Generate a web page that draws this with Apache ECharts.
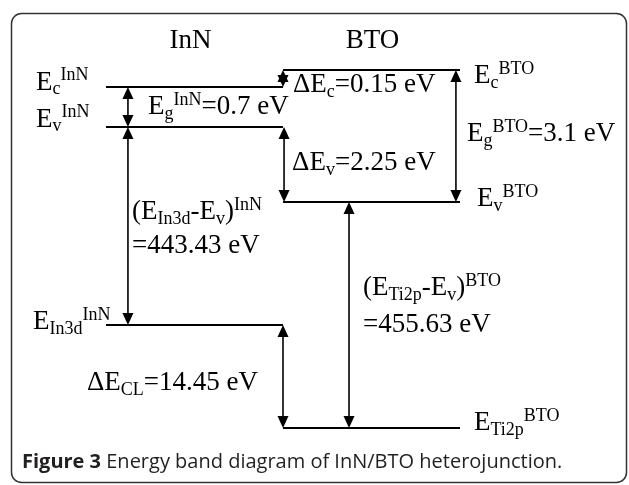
<!DOCTYPE html>
<html><head><meta charset="utf-8">
<script src="https://cdn.jsdelivr.net/npm/echarts@6/dist/echarts.min.js"></script>
<style>html,body{margin:0;padding:0;background:#fff}#c{width:629px;height:485px}</style>
</head><body><div id="c"></div>
<script>
// ---------------- data ----------------
const materials = ['InN', 'BTO'];
const levelNames = ['Ec_InN', 'Ev_InN', 'EIn3d_InN', 'Ec_BTO', 'Ev_BTO', 'ETi2p_BTO'];
const levelMaterial = [0, 0, 0, 1, 1, 1];
// schematic (not to scale) level position, measured downward from E_c^BTO
const levelDepth = [17, 57, 255, 0, 132, 358];
const levelLabels = [
  '{m|E}{sub|c}{sup|InN}', '{m|E}{sub|v}{sup|InN}', '{m|E}{sub|In3d}{sup|InN}',
  '{m|E}{sub|c}{sup|BTO}', '{m|E}{sub|v}{sup|BTO}', '{m|E}{sub|Ti2p}{sup|BTO}'
];
const gapFrom = [0, 3, 1, 3, 1, 4, 2];
const gapTo   = [1, 0, 4, 4, 2, 5, 5];
const gapValues = [0.7, 0.15, 2.25, 3.1, 443.43, 455.63, 14.45];
const gapSymbols = [
  '{m|E}{sub|g}{sup|InN}', '{m|ΔE}{sub|c}', '{m|ΔE}{sub|v}', '{m|E}{sub|g}{sup|BTO}',
  '{m|(E}{sub|In3d}{m|-E}{sub|v}{m|)}{sup|InN}', '{m|(E}{sub|Ti2p}{m|-E}{sub|v}{m|)}{sup|BTO}',
  '{m|ΔE}{sub|CL}'
];
const caption = ['Figure 3', ' Energy band diagram of InN/BTO heterojunction.'];

// ---------------- layout ----------------
const SERIF = '"Liberation Serif","Times New Roman",serif';
const RICH = {
  m:   {fontFamily: SERIF, fontSize: 27, lineHeight: 32, verticalAlign: 'middle', fill: '#000'},
  sup: {fontFamily: SERIF, fontSize: 18, lineHeight: 18, verticalAlign: 'top', fill: '#000'},
  sub: {fontFamily: SERIF, fontSize: 18, lineHeight: 18, verticalAlign: 'bottom', fill: '#000'},
  t:   {fontFamily: SERIF, fontSize: 27, lineHeight: 32, verticalAlign: 'middle', fill: '#000'}
};
const arrowX = [0.124, 1.0, 1.006, 1.977, 0.124, 1.373, 1.0];   // column units
// label offsets (px) relative to anchor: [dx, baseline dy, align]
const levelLabelOff = [[-70, 4.5], [-70, 1.5], [-73, 6], [14, 15], [17, 6], [14, 4]];
const gapLabelOff = [[20, 29, 'left'], [10, 24, 'left'], [8, 45, 'left'], [11, 73, 'left'],
                     [4, 94, 'left'], [14, 95, 'left'], [-25, 67, 'right']];
const gapSecondLine = {4: 128, 5: 132};
const BASE = 9; // middle-to-baseline offset for 27px serif

// ---------------- build ----------------
const levelData = levelDepth.map((d, i) => [levelMaterial[i], levelMaterial[i] + 1, d]);
const arrowData = gapFrom.map((f, i) => [arrowX[i], levelDepth[f], levelDepth[gapTo[i]]]);

const ann = [];
materials.forEach((m, i) => ann.push({at: [i + 0.5, 0], dx: i === 0 ? -4 : 1, dy: -20, text: '{t|' + m + '}', align: 'center'}));
levelLabels.forEach((t, i) => {
  const x = levelMaterial[i] === 0 ? 0 : 2;
  ann.push({at: [x, levelDepth[i]], dx: levelLabelOff[i][0], dy: levelLabelOff[i][1], text: t, align: 'left'});
});
gapSymbols.forEach((s, i) => {
  const top = Math.min(levelDepth[gapFrom[i]], levelDepth[gapTo[i]]);
  const o = gapLabelOff[i];
  const val = '{m|=' + gapValues[i] + ' eV}';
  if (gapSecondLine[i] !== undefined) {
    ann.push({at: [arrowX[i], top], dx: o[0], dy: o[1], text: s, align: o[2]});
    ann.push({at: [arrowX[i], top], dx: o[0], dy: gapSecondLine[i], text: val, align: o[2]});
  } else {
    ann.push({at: [arrowX[i], top], dx: o[0], dy: o[1], text: s + val, align: o[2]});
  }
});

const chart = echarts.init(document.getElementById('c'), null, {renderer: 'canvas'});
const HEAD_L = 12, HEAD_W = 5.5;
chart.setOption({
  animation: false,
  backgroundColor: '#fff',
  grid: {left: 106, right: 169, top: 70, bottom: 57},
  xAxis: {type: 'value', min: 0, max: 2, show: false},
  yAxis: {type: 'value', min: 0, max: 358, inverse: true, show: false},
  graphic: [
    {type: 'rect', shape: {x: 11.5, y: 13.5, width: 615, height: 469, r: 10},
     style: {fill: 'none', stroke: '#333', lineWidth: 1.5}, silent: true},
    {type: 'text', x: 22, y: 462,
     style: {text: '{b|' + caption[0] + '}{r|' + caption[1] + '}', verticalAlign: 'middle',
       rich: {b: {fontFamily: '"Open Sans",sans-serif', fontSize: 20, fontWeight: 'bold', fill: '#231f20'},
              r: {fontFamily: '"Open Sans",sans-serif', fontSize: 20, fill: '#231f20'}}}}
  ],
  series: [
    {
      type: 'custom', name: 'levels', data: levelData, encode: {x: [0, 1], y: 2},
      renderItem(params, api) {
        const a = api.coord([api.value(0), api.value(2)]);
        const b = api.coord([api.value(1), api.value(2)]);
        return {type: 'line', shape: {x1: a[0], y1: a[1], x2: b[0], y2: b[1]},
                style: {stroke: '#000', lineWidth: 2}};
      }
    },
    {
      type: 'custom', name: 'gaps', data: arrowData, encode: {x: 0, y: [1, 2]},
      renderItem(params, api) {
        const p1 = api.coord([api.value(0), api.value(1)]);
        const p2 = api.coord([api.value(0), api.value(2)]);
        const x = p1[0];
        const yt = Math.min(p1[1], p2[1]), yb = Math.max(p1[1], p2[1]);
        return {type: 'group', children: [
          {type: 'line', shape: {x1: x, y1: yt + 4, x2: x, y2: yb - 4}, style: {stroke: '#000', lineWidth: 1.6}},
          {type: 'polygon', shape: {points: [[x, yt], [x - HEAD_W, yt + HEAD_L], [x + HEAD_W, yt + HEAD_L]]}, style: {fill: '#000'}},
          {type: 'polygon', shape: {points: [[x, yb], [x - HEAD_W, yb - HEAD_L], [x + HEAD_W, yb - HEAD_L]]}, style: {fill: '#000'}}
        ]};
      }
    },
    {
      type: 'custom', name: 'labels', data: ann.map(a => a.at), encode: {x: 0, y: 1},
      renderItem(params, api) {
        const a = ann[params.dataIndex];
        const p = api.coord([api.value(0), api.value(1)]);
        return {type: 'text', x: p[0] + a.dx, y: p[1] + a.dy - BASE,
                style: {text: a.text, rich: RICH, align: a.align, verticalAlign: 'middle', fill: '#000'}};
      }
    }
  ]
});
</script></body></html>
